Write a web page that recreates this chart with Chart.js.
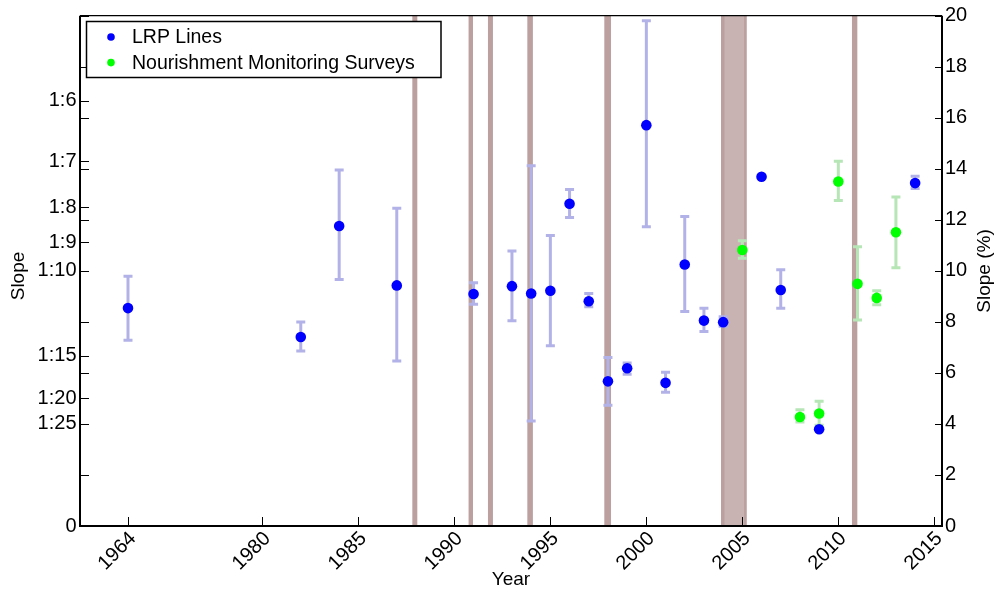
<!DOCTYPE html>
<html>
<head>
<meta charset="utf-8">
<script src="https://cdn.jsdelivr.net/npm/chart.js@4.4.0/dist/chart.umd.min.js"></script>
<style>
  body { margin: 0; background: #fff; }
  #wrap { width: 998px; height: 592px; position: relative; }
</style>
</head>
<body>
<div id="wrap"><canvas id="myChart"></canvas></div>
<script>
// LRP lines (blue) - slope in %, with low / high error ends
const lrpYears = [1964, 1982, 1984, 1987, 1991, 1993, 1994, 1995, 1996, 1997, 1998, 1999, 2000, 2001, 2002, 2003, 2004, 2006, 2007, 2009, 2014];
const lrpSlope = [8.54, 7.41, 11.76, 9.43, 9.09, 9.40, 9.11, 9.22, 12.63, 8.81, 5.67, 6.18, 15.71, 5.61, 10.25, 8.05, 7.99, 13.69, 9.25, 3.79, 13.44];
const lrpLow   = [7.28, 6.86, 9.66, 6.47, 8.69, 8.04, 4.12, 7.06, 12.09, 8.59, 4.73, 5.95, 11.73, 5.24, 8.41, 7.62, 7.83, 13.69, 8.53, 3.79, 13.23];
const lrpHigh  = [9.79, 8.00, 13.95, 12.45, 9.53, 10.78, 14.12, 11.39, 13.19, 9.11, 6.60, 6.39, 19.80, 6.03, 12.13, 8.53, 8.20, 13.69, 10.04, 3.79, 13.71];

// Nourishment monitoring surveys (green)
const nmsYears = [2005, 2008, 2009, 2010, 2011, 2012, 2013];
const nmsSlope = [10.82, 4.27, 4.41, 13.50, 9.49, 8.94, 11.51];
const nmsLow   = [10.49, 4.08, 3.95, 12.76, 8.07, 8.67, 10.12];
const nmsHigh  = [11.18, 4.56, 4.89, 14.30, 10.94, 9.22, 12.89];

// nourishment periods (shaded)
const bandStart = [1987.81, 1990.74, 1991.75, 1993.80, 1997.81, 2003.89, 2010.71];
const bandEnd   = [1988.07, 1990.97, 1992.01, 1994.09, 1998.16, 2005.22, 2010.99];

// x axis is broken: 1964 is drawn where 1973 would be
const breakShift = 9;
const xTickYears = [1964, 1980, 1985, 1990, 1995, 2000, 2005, 2010, 2015];

// left axis: slope as ratio
const ratioLabels = ['1:6', '1:7', '1:8', '1:9', '1:10', '1:15', '1:20', '1:25', '0'];
const ratioRuns   = [6, 7, 8, 9, 10, 15, 20, 25, 0];
const evenTicks   = [2, 6, 8, 12, 14, 16, 18, 20];

const blue = 'rgb(0,0,255)';
const green = 'rgb(0,255,0)';
const blueErr = 'rgb(178,178,232)';
const greenErr = 'rgb(182,230,182)';

function axisYear(y) {
  return y < 1970 ? y + breakShift : y;
}
function ratioToPct(n) {
  return n === 0 ? 0 : 100 / n;
}

Chart.defaults.font.family = '"Liberation Sans", Arial, sans-serif';
Chart.defaults.color = '#000';

const lrpData = lrpYears.map((yr, i) => ({ x: axisYear(yr), y: lrpSlope[i] }));
const nmsData = nmsYears.map((yr, i) => ({ x: axisYear(yr), y: nmsSlope[i] }));

const leftTicks = ratioRuns.map(ratioToPct).concat(evenTicks);

const bandsPlugin = {
  id: 'bands',
  beforeDatasetsDraw(chart) {
    const { ctx, chartArea, scales } = chart;
    ctx.save();
    bandStart.forEach((s, i) => {
      const x0 = scales.x.getPixelForValue(s);
      const x1 = scales.x.getPixelForValue(bandEnd[i]);
      const w = x1 - x0;
      if (w > 12) {
        ctx.fillStyle = 'rgb(201,178,178)';
        ctx.fillRect(x0, chartArea.top, w, chartArea.bottom - chartArea.top);
        ctx.fillStyle = 'rgb(188,160,160)';
        ctx.fillRect(x0, chartArea.top, 3.5, chartArea.bottom - chartArea.top);
        ctx.fillRect(x1 - 2.5, chartArea.top, 2.5, chartArea.bottom - chartArea.top);
      } else {
        ctx.fillStyle = 'rgb(188,160,160)';
        ctx.fillRect(x0, chartArea.top, w, chartArea.bottom - chartArea.top);
      }
    });

    // error bars
    chart.data.datasets.forEach(ds => {
      ctx.strokeStyle = ds.errColor;
      ctx.lineWidth = 3;
      ds.data.forEach((p, i) => {
        const x = scales.x.getPixelForValue(p.x);
        const yl = scales.y.getPixelForValue(ds.errLow[i]);
        const yh = scales.y.getPixelForValue(ds.errHigh[i]);
        ctx.beginPath();
        ctx.moveTo(x, yl); ctx.lineTo(x, yh);
        ctx.moveTo(x - 4.5, yl); ctx.lineTo(x + 4.5, yl);
        ctx.moveTo(x - 4.5, yh); ctx.lineTo(x + 4.5, yh);
        ctx.stroke();
      });
    });
    ctx.restore();
  }
};

const framePlugin = {
  id: 'frame',
  afterDraw(chart) {
    const { ctx, chartArea: a, scales } = chart;
    ctx.save();
    ctx.strokeStyle = '#000';
    ctx.lineWidth = 1.3;
    ctx.beginPath();
    ctx.moveTo(a.left, a.top); ctx.lineTo(a.right, a.top);
    ctx.stroke();
    ctx.lineWidth = 2;
    ctx.beginPath();
    ctx.moveTo(a.left, a.top); ctx.lineTo(a.left, a.bottom);
    ctx.lineTo(a.right, a.bottom); ctx.lineTo(a.right, a.top);
    ctx.stroke();

    // inward tick marks
    ctx.lineWidth = 1;
    ctx.beginPath();
    scales.x.ticks.forEach(t => {
      const x = Math.round(scales.x.getPixelForValue(t.value)) + 0.5;
      ctx.moveTo(x, a.bottom); ctx.lineTo(x, a.bottom - 9);
    });
    scales.yL.ticks.forEach(t => {
      const y = Math.round(scales.yL.getPixelForValue(t.value)) + 0.5;
      ctx.moveTo(a.left, y); ctx.lineTo(a.left + 9, y);
    });
    scales.y.ticks.forEach(t => {
      const y = Math.round(scales.y.getPixelForValue(t.value)) + 0.5;
      ctx.moveTo(a.right, y); ctx.lineTo(a.right - 7, y);
    });
    ctx.stroke();

    // axis titles
    ctx.fillStyle = '#000';
    ctx.font = '19px "Liberation Sans", Arial, sans-serif';
    ctx.textAlign = 'center';
    ctx.textBaseline = 'middle';
    ctx.fillText('Year', (a.left + a.right) / 2, 580);
    ctx.save();
    ctx.translate(19, 276);
    ctx.rotate(-Math.PI / 2);
    ctx.fillText('Slope', 0, 0);
    ctx.restore();
    ctx.save();
    ctx.translate(985, 271);
    ctx.rotate(-Math.PI / 2);
    ctx.fillText('Slope (%)', 0, 0);
    ctx.restore();

    // legend box
    const lx = 86.5, ly = 21.5, lw = 354.5, lh = 56;
    ctx.fillStyle = '#fff';
    ctx.fillRect(lx, ly, lw, lh);
    ctx.lineWidth = 1.5;
    ctx.strokeRect(lx, ly, lw, lh);
    ctx.font = '19.5px "Liberation Sans", Arial, sans-serif';
    ctx.textAlign = 'left';
    chart.data.datasets.forEach((ds, i) => {
      const cy = 37 + i * 25.6;
      ctx.fillStyle = ds.backgroundColor;
      ctx.beginPath();
      ctx.arc(111, cy, 3.8, 0, Math.PI * 2);
      ctx.fill();
      ctx.fillStyle = '#000';
      ctx.fillText(ds.label, 132, cy + 1);
    });
    ctx.restore();
  }
};

const ctx = document.getElementById('myChart');

const myChart = new Chart(ctx, {
  type: 'scatter',
  data: {
    datasets: [
      {
        label: 'LRP Lines',
        data: lrpData,
        errLow: lrpLow,
        errHigh: lrpHigh,
        errColor: blueErr,
        backgroundColor: blue,
        pointBackgroundColor: blue,
        pointBorderWidth: 0,
        pointRadius: 5.3,
        yAxisID: 'y'
      },
      {
        label: 'Nourishment Monitoring Surveys',
        data: nmsData,
        errLow: nmsLow,
        errHigh: nmsHigh,
        errColor: greenErr,
        backgroundColor: green,
        pointBackgroundColor: green,
        pointBorderWidth: 0,
        pointRadius: 5.3,
        yAxisID: 'y'
      }
    ]
  },
  options: {
    responsive: true,
    maintainAspectRatio: false,
    animation: false,
    layout: { padding: { top: 15.7, left: 0, right: 0, bottom: 0 } },
    plugins: {
      legend: { display: false },
      tooltip: { enabled: false }
    },
    scales: {
      x: {
        type: 'linear',
        min: 1970.5,
        max: 2015.4,
        grid: { display: false, drawTicks: false },
        border: { display: false },
        afterBuildTicks: scale => {
          scale.ticks = xTickYears.map(yr => ({ value: axisYear(yr) }));
        },
        afterFit: scale => { scale.height = 66; },
        ticks: {
          autoSkip: false,
          minRotation: 45,
          maxRotation: 45,
          padding: 1,
          labelOffset: 5,
          font: { size: 20 },
          callback: (v) => {
            const i = xTickYears.findIndex(yr => axisYear(yr) === v);
            return i >= 0 ? String(xTickYears[i]) : '';
          }
        }
      },
      yL: {
        type: 'linear',
        position: 'left',
        min: 0,
        max: 20,
        grid: { display: false, drawTicks: false },
        border: { display: false },
        afterBuildTicks: scale => {
          scale.ticks = leftTicks.map(v => ({ value: v }));
        },
        afterFit: scale => { scale.width = 80; },
        ticks: {
          autoSkip: false,
          padding: 3.5,
          font: { size: 20, lineHeight: 0.6 },
          callback: (v) => {
            const i = ratioRuns.findIndex(n => Math.abs(ratioToPct(n) - v) < 1e-6);
            return i >= 0 ? ratioLabels[i] : '';
          }
        }
      },
      y: {
        type: 'linear',
        position: 'right',
        min: 0,
        max: 20,
        grid: { display: false, drawTicks: false },
        border: { display: false },
        afterFit: scale => { scale.width = 56; },
        ticks: {
          stepSize: 2,
          padding: 3,
          font: { size: 20, lineHeight: 1 }
        }
      }
    }
  },
  plugins: [bandsPlugin, framePlugin]
});
</script>
</body>
</html>
